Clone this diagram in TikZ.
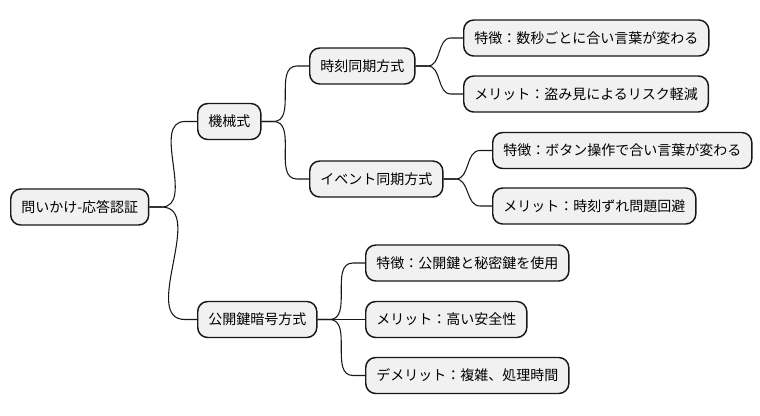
\documentclass[tikz,border=0pt]{standalone}
\usepackage{fontspec}
\setmainfont{Noto Sans CJK JP}
\usetikzlibrary{calc}
\definecolor{boxfill}{HTML}{F1F1F1}
\definecolor{linecol}{HTML}{181818}

\begin{document}
\begin{tikzpicture}[x=0.75pt,y=-0.75pt,
  topic/.style={draw=linecol,fill=boxfill,line width=1.1pt,rounded corners=7.5pt,
    minimum height=27pt,inner xsep=7.9pt,inner ysep=0pt,anchor=west,font=\fontsize{10.5}{12}\selectfont},
  branch/.style={draw=linecol,line width=0.8pt}]
  \useasboundingbox (0,0) rectangle (760,415);

  \node[topic] (root) at (10,207) {問いかけ-応答認証};
  \node[topic] (mech) at (197,121.5) {機械式};
  \node[topic] (pk) at (197,319.5) {公開鍵暗号方式};
  \node[topic] (time) at (309,66) {時刻同期方式};
  \node[topic] (event) at (309,179) {イベント同期方式};
  \node[topic] (t1) at (463,38) {特徴：数秒ごとに合い言葉が変わる};
  \node[topic] (t2) at (463,94) {メリット：盗み見によるリスク軽減};
  \node[topic] (e1) at (492,150.5) {特徴：ボタン操作で合い言葉が変わる};
  \node[topic] (e2) at (492,206) {メリット：時刻ずれ問題回避};
  \node[topic] (p1) at (365,263) {特徴：公開鍵と秘密鍵を使用};
  \node[topic] (p2) at (365,319.5) {メリット：高い安全性};
  \node[topic] (p3) at (365,375.5) {デメリット：複雑、処理時間};

  \foreach \a/\b in {root/mech,root/pk,mech/time,mech/event,time/t1,time/t2,
                     event/e1,event/e2,pk/p1,pk/p2,pk/p3}
    \draw[branch] (\a.east) -- ++(12,0) to[out=0,in=180] ($(\b.west)+(-12,0)$) -- (\b.west);
\end{tikzpicture}
\end{document}
